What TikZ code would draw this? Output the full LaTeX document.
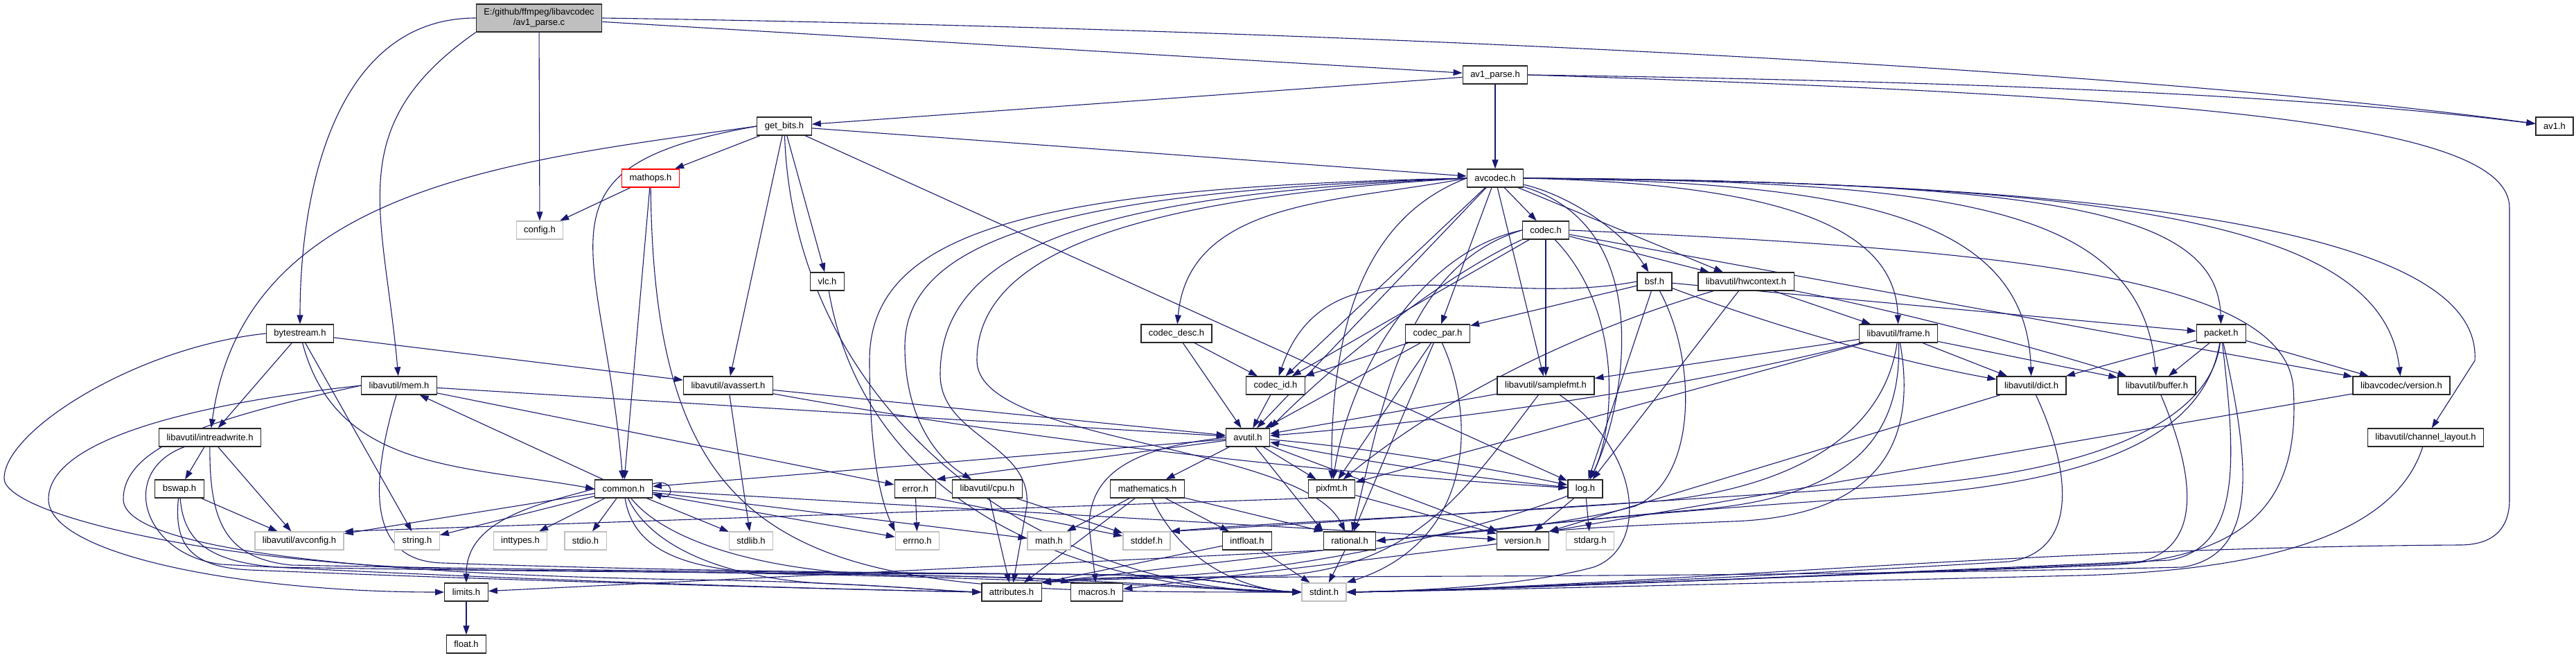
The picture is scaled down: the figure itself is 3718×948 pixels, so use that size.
\documentclass[tikz,border=0pt]{standalone}
\usepackage{fontspec}
\setmainfont{Liberation Sans}
\usepackage{xcolor}
\usepackage{tikz}
\usetikzlibrary{arrows.meta, backgrounds}
\definecolor{edgeblue}{RGB}{25,25,112}
\definecolor{sysgrey}{RGB}{191,191,191}

\begin{document}
\begin{tikzpicture}[
  x=1pt, y=1pt,
  file/.style={rectangle, draw=black!85, fill=white, line width=1.3pt,
               inner xsep=11pt, inner ysep=0pt, minimum height=26pt,
               font=\fontsize{13}{15}\selectfont},
  sysfile/.style={file, draw=sysgrey},
  redfile/.style={file, draw=red},
  rootfile/.style={file, fill=sysgrey, minimum height=40pt, align=center},
  arr/.style={-{Triangle[length=13pt,width=9pt]}, draw=edgeblue, fill=none, line width=1.1pt}
]
  \useasboundingbox (0,0) rectangle (3718,-948);

  \node[rootfile] (root)      at (778,-26)   {E:/github/ffmpeg/libavcodec\\/av1\_parse.c};
  \node[file] (av1parseh)     at (2158,-108) {av1\_parse.h};
  \node[file] (avone)         at (3687,-182) {av1.h};
  \node[file] (getbits)       at (1132,-182) {get\_bits.h};
  \node[file] (avcodec)       at (2158,-257) {avcodec.h};
  \node[redfile] (mathops)    at (939,-257)  {mathops.h};
  \node[sysfile] (config)     at (779,-332)  {config.h};
  \node[file] (codec)         at (2231,-332) {codec.h};
  \node[file] (vlc)           at (1194,-406) {vlc.h};
  \node[file] (bsf)           at (2388,-406) {bsf.h};
  \node[file] (hwctx)         at (2520,-406) {libavutil/hwcontext.h};
  \node[file] (bytestream)    at (433,-481)  {bytestream.h};
  \node[file] (codecdesc)     at (1698,-481) {codec\_desc.h};
  \node[file] (codecpar)      at (2075,-481) {codec\_par.h};
  \node[file] (frame)         at (2740,-481) {libavutil/frame.h};
  \node[file] (packet)        at (3206,-481) {packet.h};
  \node[file] (mem)           at (576,-556)  {libavutil/mem.h};
  \node[file] (avassert)      at (1051,-556) {libavutil/avassert.h};
  \node[file] (codecid)       at (1841,-556) {codec\_id.h};
  \node[file] (samplefmt)     at (2231,-556) {libavutil/samplefmt.h};
  \node[file] (dict)          at (2932,-556) {libavutil/dict.h};
  \node[file] (buffer)        at (3113,-556) {libavutil/buffer.h};
  \node[file] (lavcversion)   at (3466,-556) {libavcodec/version.h};
  \node[file] (intrw)         at (303,-631)  {libavutil/intreadwrite.h};
  \node[file] (avutil)        at (1801,-631) {avutil.h};
  \node[file] (chlayout)      at (3501,-631) {libavutil/channel\_layout.h};
  \node[file] (bswap)         at (259,-705)  {bswap.h};
  \node[file] (common)        at (900,-705)  {common.h};
  \node[file] (error)         at (1321,-705) {error.h};
  \node[file] (cpu)           at (1425,-705) {libavutil/cpu.h};
  \node[file] (mathematics)   at (1656,-705) {mathematics.h};
  \node[file] (pixfmt)        at (1922,-705) {pixfmt.h};
  \node[file] (log)           at (2288,-705) {log.h};
  \node[sysfile] (avconfig)   at (432,-780)  {libavutil/avconfig.h};
  \node[sysfile] (stringh)    at (602,-780)  {string.h};
  \node[sysfile] (inttypes)   at (751,-780)  {inttypes.h};
  \node[sysfile] (stdio)      at (845,-780)  {stdio.h};
  \node[sysfile] (stdlib)     at (1084,-780) {stdlib.h};
  \node[sysfile] (errno)      at (1324,-780) {errno.h};
  \node[sysfile] (math)       at (1514,-780) {math.h};
  \node[sysfile] (stddef)     at (1655,-780) {stddef.h};
  \node[file] (intfloat)      at (1800,-780) {intfloat.h};
  \node[file] (rational)      at (1948,-780) {rational.h};
  \node[file] (version)       at (2198,-780) {version.h};
  \node[sysfile] (stdarg)     at (2295,-780) {stdarg.h};
  \node[file] (limits)        at (673,-854)  {limits.h};
  \node[file] (attributes)    at (1460,-854) {attributes.h};
  \node[file] (macros)        at (1583,-854) {macros.h};
  \node[sysfile] (stdint)     at (1911,-854) {stdint.h};
  \node[file] (float)         at (673,-929)  {float.h};

  \begin{scope}[on background layer]
  \fill[white] (0,0) rectangle (3718,-948);

  \draw[arr] (root.west) to[out=180,in=90] (bytestream);
  \draw[arr] (root.south west) to[out=215,in=95,looseness=1.2] (mem);
  \draw[arr] (root) -- (config);
  \draw[arr] (root) -- (av1parseh);
  \draw[arr] (root.east) .. controls (1800,-40) and (3000,-90) .. (avone);

  \draw[arr] (av1parseh) -- (avcodec);
  \draw[arr] (av1parseh.east) .. controls (2900,-118) and (3350,-140) .. (avone);
  \draw[arr] (av1parseh) -- (getbits);
  \draw[arr] (av1parseh.east) .. controls (3200,-140) and (3622,-180) .. (3622,-300) -- (3622,-720) .. controls (3622,-770) and (3590,-786) .. (3550,-786) .. controls (2900,-790) and (2400,-845) .. (stdint.east);

  \draw[arr] (getbits) -- (mathops);
  \draw[arr] (getbits) -- (vlc);
  \draw[arr] (getbits) -- (avcodec);
  \draw[arr] (getbits.west) .. controls (744,-231) and (352,-268) .. (intrw);
  \draw[arr] (getbits.west) .. controls (753,-242) and (870,-348) .. (common);
  \draw[arr] (getbits) -- (avassert);
  \draw[arr] (getbits) -- (log);
  \draw[arr] (getbits) .. controls (1146,-585) and (1488,-854) .. (stdint.west);

  \draw[arr] (mathops) -- (config);
  \draw[arr] (mathops) -- (common);
  \draw[arr] (mathops) .. controls (945,-850) and (1200,-854) .. (stdint.west);

  \draw[arr] (vlc) .. controls (1249,-730) and (1562,-854) .. (stdint.west);

  \draw[arr] (bytestream.west) .. controls (200,-500) and (6,-620) .. (6,-690) .. controls (6,-740) and (300,-815) .. (700,-822) .. controls (1500,-828) and (1760,-852) .. (stdint.west);
  \draw[arr] (bytestream) -- (stringh);
  \draw[arr] (bytestream) -- (avassert);
  \draw[arr] (bytestream) .. controls (485,-677) and (659,-670) .. (common.west);
  \draw[arr] (bytestream) -- (intrw);

  \draw[arr] (mem.west) .. controls (300,-580) and (70,-630) .. (70,-720) .. controls (70,-800) and (350,-854) .. (limits);
  \draw[arr] (mem.west) .. controls (320,-600) and (178,-640) .. (178,-720) .. controls (178,-800) and (600,-830) .. (1000,-836) .. controls (1250,-840) and (1350,-852) .. (attributes.west);
  \draw[arr] (mem) .. controls (540,-680) and (520,-810) .. (640,-812) .. controls (1100,-828) and (1500,-826) .. (1650,-830) .. controls (1760,-833) and (1820,-852) .. (stdint.west);
  \draw[arr] (mem) -- (error);
  \draw[arr] (mem) -- (avutil);

  \draw[arr] (intrw) -- (bswap);
  \draw[arr] (intrw) -- (avconfig);
  \draw[arr] (intrw) .. controls (170,-680) and (205,-800) .. (320,-814) .. controls (800,-840) and (1300,-852) .. (attributes.west);
  \draw[arr] (intrw) .. controls (302,-760) and (330,-805) .. (420,-815) .. controls (1100,-828) and (1500,-826) .. (1650,-830) .. controls (1760,-833) and (1820,-852) .. (stdint.west);

  \draw[arr] (bswap) -- (avconfig);
  \draw[arr] (bswap) .. controls (250,-790) and (280,-818) .. (360,-822) .. controls (800,-840) and (1300,-852) .. (attributes.west);
  \draw[arr] (bswap) .. controls (265,-780) and (300,-810) .. (400,-818) .. controls (1100,-830) and (1500,-826) .. (1650,-830) .. controls (1760,-833) and (1820,-852) .. (stdint.west);

  \draw[arr] (common) -- (errno);
  \draw[arr] (common) -- (inttypes);
  \draw[arr] (common.west) to[out=195,in=90] (limits);
  \draw[arr] (common) -- (math);
  \draw[arr] (common) .. controls (915,-800) and (1000,-826) .. (1150,-828) .. controls (1500,-828) and (1760,-850) .. (stdint.west);
  \draw[arr] (common) -- (stdio);
  \draw[arr] (common) -- (stdlib);
  \draw[arr] (common) -- (stringh);
  \draw[arr] (common) .. controls (940,-790) and (1050,-836) .. (1200,-842) .. controls (1300,-846) and (1360,-852) .. (attributes.west);
  \draw[arr] (common) .. controls (960,-780) and (1100,-826) .. (1300,-830) .. controls (1450,-832) and (1520,-834) .. (macros.north west);
  \draw[arr] (common) -- (version);
  \draw[arr] (common) -- (avconfig);
  \draw[arr] (common) -- (mem);
  \draw[arr] ([yshift=7pt]common.east) .. controls +(32,10) and +(32,-10) .. ([yshift=-7pt]common.east);

  \draw[arr] (avassert) -- (stdlib);
  \draw[arr] (avassert) -- (avutil);
  \draw[arr] (avassert) .. controls (1463,-631) and (1876,-680) .. (log);

  \draw[arr] (avcodec.west) .. controls (1500,-270) and (1255,-330) .. (1255,-520) .. controls (1255,-650) and (1270,-720) .. (errno.north west);
  \draw[arr] (avcodec.west) .. controls (1550,-275) and (1306,-340) .. (1306,-500) .. controls (1306,-600) and (1350,-660) .. (cpu);
  \draw[arr] (avcodec.west) .. controls (1600,-280) and (1357,-350) .. (1357,-540) .. controls (1357,-630) and (1490,-640) .. (1482,-730) -- (attributes);
  \draw[arr] (avcodec.west) .. controls (1650,-285) and (1410,-360) .. (1410,-520) .. controls (1410,-640) and (1880,-640) .. (rational);
  \draw[arr] (avcodec.west) .. controls (1949,-321) and (1921,-512) .. (pixfmt);
  \draw[arr] (avcodec) -- (avutil);
  \draw[arr] (avcodec.east) .. controls (2800,-262) and (3090,-290) .. (buffer);
  \draw[arr] (avcodec.east) .. controls (2550,-265) and (2735,-320) .. (frame);
  \draw[arr] (avcodec.east) .. controls (2700,-262) and (2925,-320) .. (dict);
  \draw[arr] (avcodec.east) .. controls (2950,-262) and (3200,-300) .. (packet);
  \draw[arr] (avcodec.east) .. controls (3100,-262) and (3440,-330) .. (lavcversion);
  \draw[arr] (avcodec.east) .. controls (3300,-262) and (3580,-380) .. (3572,-520) -- (chlayout);
  \draw[arr] (avcodec) -- (hwctx);
  \draw[arr] (avcodec) .. controls (2260,-280) and (2340,-330) .. (bsf);
  \draw[arr] (avcodec) -- (codec);
  \draw[arr] (avcodec.west) .. controls (1938,-292) and (1716,-286) .. (codecdesc);
  \draw[arr] (avcodec) -- (codecpar);
  \draw[arr] (avcodec) -- (codecid);
  \draw[arr] (avcodec) -- (samplefmt);
  \draw[arr] (avcodec) .. controls (2400,-330) and (2340,-600) .. (log);

  \draw[arr] (codec.east) .. controls (2900,-360) and (3300,-400) .. (3310,-560) .. controls (3320,-720) and (3250,-800) .. (3050,-815) .. controls (2500,-835) and (2100,-852) .. (stdint.east);
  \draw[arr] (codec) -- (lavcversion);
  \draw[arr] (codec.south west) .. controls (2080,-400) and (1930,-520) .. (avutil.north east);
  \draw[arr] (codec.west) .. controls (2046,-364) and (1947,-542) .. (pixfmt);
  \draw[arr] (codec.west) .. controls (2023,-385) and (1994,-594) .. (rational);
  \draw[arr] (codec) -- (samplefmt);
  \draw[arr] (codec) .. controls (2345,-450) and (2330,-620) .. (log);
  \draw[arr] (codec) -- (codecid);
  \draw[arr] (codec) -- (hwctx);

  \draw[arr] (bsf) .. controls (2569,-474) and (2751,-524) .. (dict);
  \draw[arr] (bsf) -- (packet);
  \draw[arr] (bsf) -- (log);
  \draw[arr] (bsf) .. controls (2450,-520) and (2450,-690) .. (2360,-730) .. controls (2250,-760) and (2100,-770) .. (rational.east);
  \draw[arr] (bsf.west) .. controls (2147,-447) and (1916,-338) .. (codecid);
  \draw[arr] (bsf) -- (codecpar);

  \draw[arr] (hwctx) .. controls (2718,-444) and (2915,-494) .. (buffer);
  \draw[arr] (hwctx) -- (frame);
  \draw[arr] (hwctx) -- (log);
  \draw[arr] (hwctx) .. controls (2300,-470) and (2100,-560) .. (pixfmt);

  \draw[arr] (codecdesc) -- (codecid);
  \draw[arr] (codecdesc) -- (avutil);

  \draw[arr] (codecpar) -- (codecid);
  \draw[arr] (codecpar) -- (avutil);
  \draw[arr] (codecpar) -- (pixfmt);
  \draw[arr] (codecpar) -- (rational);
  \draw[arr] (codecpar) .. controls (2130,-600) and (2130,-780) .. (stdint.north east);

  \draw[arr] (frame) .. controls (2720,-620) and (2600,-700) .. (2400,-722) .. controls (2100,-745) and (1850,-752) .. (stddef.north east);
  \draw[arr] (frame) .. controls (2745,-640) and (2660,-718) .. (2450,-735) .. controls (2250,-752) and (2100,-770) .. (rational.east);
  \draw[arr] (frame) .. controls (2770,-650) and (2700,-745) .. (2500,-752) .. controls (2350,-758) and (2280,-762) .. (version.north east);
  \draw[arr] (frame) .. controls (2427,-560) and (2114,-605) .. (avutil);
  \draw[arr] (frame) -- (pixfmt);
  \draw[arr] (frame) -- (samplefmt);
  \draw[arr] (frame) -- (dict);
  \draw[arr] (frame) -- (buffer);

  \draw[arr] (packet) .. controls (3190,-610) and (3020,-680) .. (2750,-700) .. controls (2350,-725) and (1900,-755) .. (stddef.north east);
  \draw[arr] (packet) .. controls (3225,-650) and (3240,-790) .. (3130,-808) .. controls (2600,-832) and (2100,-852) .. (stdint.east);
  \draw[arr] (packet) .. controls (3245,-660) and (3265,-800) .. (3150,-818) .. controls (2300,-838) and (1700,-826) .. (attributes.north east);
  \draw[arr] (packet) -- (buffer);
  \draw[arr] (packet) -- (dict);
  \draw[arr] (packet) -- (lavcversion);
  \draw[arr] (packet) .. controls (3180,-640) and (3000,-700) .. (2700,-718) .. controls (2350,-740) and (2150,-765) .. (rational.east);

  \draw[arr] (codecid) -- (avutil);

  \draw[arr] (samplefmt) -- (avutil);
  \draw[arr] (samplefmt) .. controls (2120,-700) and (2050,-815) .. (1850,-830) .. controls (1700,-834) and (1560,-832) .. (attributes.north east);
  \draw[arr] (samplefmt) .. controls (2370,-650) and (2380,-790) .. (2300,-818) .. controls (2200,-845) and (2050,-852) .. (stdint.east);

  \draw[arr] (dict) -- (version.north east);
  \draw[arr] (dict) .. controls (2990,-680) and (3000,-795) .. (2900,-810) .. controls (2500,-834) and (2100,-852) .. (stdint.east);

  \draw[arr] (buffer) .. controls (3170,-690) and (3180,-795) .. (3080,-812) .. controls (2550,-834) and (2100,-852) .. (stdint.east);

  \draw[arr] (lavcversion) -- (version.north east);

  \draw[arr] (chlayout) .. controls (3460,-760) and (3300,-822) .. (3000,-830) .. controls (2500,-842) and (2100,-852) .. (stdint.east);

  \draw[arr] (avutil) -- (common);
  \draw[arr] (avutil) -- (error.north east);
  \draw[arr] (avutil) -- (rational.north west);
  \draw[arr] (avutil) -- (version);
  \draw[arr] (avutil.west) .. controls (1640,-645) and (1572,-680) .. (1572,-760) -- (macros);
  \draw[arr] (avutil) -- (mathematics);
  \draw[arr] (avutil) .. controls (1963,-645) and (2126,-670) .. (log);
  \draw[arr] (avutil) -- (pixfmt);

  \draw[arr] (error) -- (errno);
  \draw[arr] (error.south east) -- (stddef);

  \draw[arr] (cpu) -- (attributes);
  \draw[arr] (cpu) -- (stddef);

  \draw[arr] (mathematics) -- (math);
  \draw[arr] (mathematics) -- (intfloat);
  \draw[arr] (mathematics) -- (rational.north west);
  \draw[arr] (mathematics) -- (attributes);
  \draw[arr] (mathematics) .. controls (1700,-800) and (1780,-850) .. (stdint.west);

  \draw[arr] (intfloat) -- (stdint);
  \draw[arr] (intfloat) -- (attributes.north east);

  \draw[arr] (rational) -- (stdint);
  \draw[arr] (rational.south west) -- (limits);
  \draw[arr] (rational.south west) -- (attributes.north east);

  \draw[arr] (pixfmt.south west) -- (avconfig.north east);
  \draw[arr] (pixfmt) -- (version);

  \draw[arr] (log) -- (stdarg);
  \draw[arr] (log) .. controls (2126,-690) and (1963,-665) .. (avutil);
  \draw[arr] (log) -- (version);
  \draw[arr] (log) .. controls (2150,-760) and (1900,-820) .. (1700,-830) .. controls (1600,-833) and (1540,-836) .. (attributes.north east);

  \draw[arr] (version) -- (macros);

  \draw[arr] (limits) -- (float);
  \end{scope}
\end{tikzpicture}
\end{document}
